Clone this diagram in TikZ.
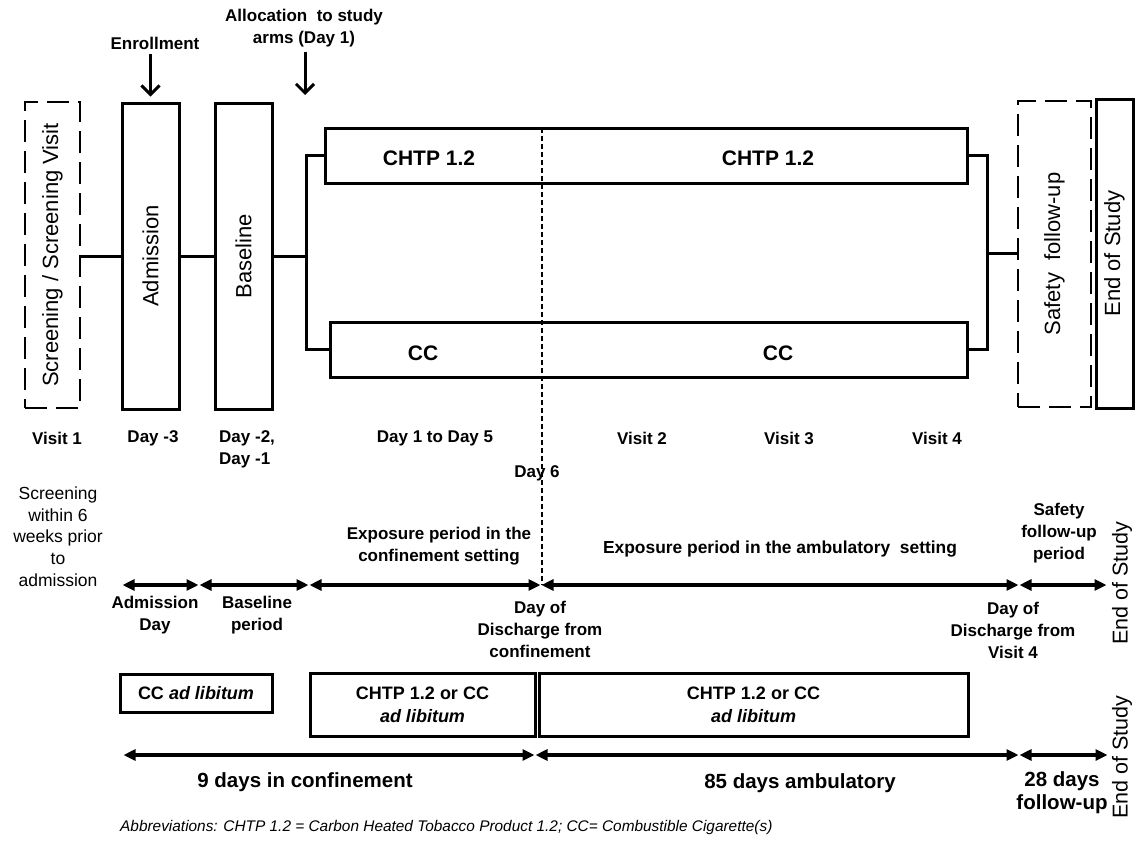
\documentclass[tikz,border=0pt]{standalone}
\usepackage{fontspec}
\setmainfont{Liberation Sans}
\usetikzlibrary{arrows.meta}
\begin{document}
\begin{tikzpicture}[x=1pt,y=-1pt,
  box/.style={draw, line width=3pt, inner sep=0pt},
  dbox/.style={draw, line width=2.6pt, inner sep=0pt, dash pattern=on 22pt off 9pt},
  vlab/.style={rotate=90, font=\fontsize{22}{26}\selectfont, inner sep=0pt},
  blab/.style={font=\fontsize{21}{25}\selectfont\bfseries, inner sep=0pt},
  lab/.style={font=\fontsize{17}{22}\selectfont\bfseries, align=center, inner sep=1pt},
  rlab/.style={font=\fontsize{17.5}{21.75}\selectfont, align=center, inner sep=1pt},
  plab/.style={font=\fontsize{18}{23}\selectfont\bfseries, align=center, inner sep=1pt},
  dlab/.style={font=\fontsize{20.5}{23}\selectfont\bfseries, align=center, inner sep=1pt},
  conn/.style={line width=3pt},
  downarr/.style={line width=3pt, -{Straight Barb[length=9pt,width=18pt]}},
  dbl/.style={line width=3.5pt, {Triangle[length=12pt,width=11pt]}-{Triangle[length=12pt,width=11pt]}, shorten <=0.5pt, shorten >=0.5pt},
  dline/.style={line width=1.6pt, dash pattern=on 5pt off 3pt}
]
\useasboundingbox (0,0) rectangle (1137,846);

% ---- top boxes
\node[dbox, minimum width=55pt, minimum height=306pt] (scr) at (52.5,255) {};
\node[vlab] at (scr) {Screening / Screening Visit};
\node[box, minimum width=57pt, minimum height=306pt] (adm) at (150.5,256) {};
\node[vlab] at (adm) {Admission};
\node[box, minimum width=57pt, minimum height=306pt] (base) at (243.5,256) {};
\node[vlab] at (base) {Baseline};
\node[box, minimum width=642pt, minimum height=55pt] (chtp) at (646,155.5) {};
\node[box, minimum width=637pt, minimum height=55pt] (cc) at (648.5,349.5) {};
\node[blab] at (429,158) {CHTP 1.2};
\node[blab] at (768,158) {CHTP 1.2};
\node[blab] at (423,353) {CC};
\node[blab] at (778,353) {CC};
\node[dbox, minimum width=73pt, minimum height=306pt] (safe) at (1054.5,254) {};
\node[vlab] at (safe) {Safety\ \ follow-up};
\node[box, minimum width=37pt, minimum height=309pt] (eos) at (1114.5,253.5) {};
\node[vlab] at (eos) {End of Study};

% ---- connectors
\coordinate (split) at (306,256);
\coordinate (merge) at (987,253);
\draw[conn] (scr.east |- adm.west) -- (adm.west);
\draw[conn] (adm.east) -- (base.west);
\draw[conn] (base.east) -- (split);
\draw[conn] (chtp.west) -| (split) |- (cc.west);
\draw[conn] (chtp.east) -| (merge) |- (cc.east);
\draw[conn] (merge) -- (merge -| safe.west);

% ---- top annotations
\node[lab] (enrl) at (155,43) {Enrollment};
\draw[downarr, shorten <=4pt, shorten >=5pt] (enrl.south -| adm.north) -- (adm.north);
\node[lab] (alloc) at (304,28.5) {Allocation\ \ to study\\arms (Day 1)};
\coordinate (allocpt) at (305,95);
\draw[downarr, shorten <=3pt] (alloc.south -| allocpt) -- (allocpt);

% ---- dashed day-6 line
\coordinate (d6top) at (542,128);
\coordinate (d6bot) at (542,585);
\draw[dline] (d6top) -- (d6bot);

% ---- row labels
\node[lab] at (57,438) {Visit 1};
\node[lab] at (153,438) {Day -3};
\node[lab, align=left, anchor=west] at (218,449) {Day -2,\\Day -1};
\node[lab] at (435,438) {Day 1 to Day 5};
\node[lab] at (642,438) {Visit 2};
\node[lab] at (789,438) {Visit 3};
\node[lab] at (937,438) {Visit 4};
\node[lab] at (537,473) {Day 6};
\node[rlab] at (58,536.5) {Screening\\within 6\\weeks prior\\to\\admission};
\node[lab] at (439,546) {Exposure period in the\\confinement setting};
\node[lab, font=\fontsize{17.4}{22}\selectfont\bfseries] at (780,549) {Exposure period in the ambulatory\ \ setting};
\node[lab] at (1059,533.5) {Safety\\follow-up\\period};
\node[vlab, font=\fontsize{21.5}{25}\selectfont] at (1122,583) {End of Study};

% ---- middle arrows
\coordinate (t0) at (122,585);
\coordinate (t1) at (199,585);
\coordinate (t2) at (309,585);
\coordinate (t3) at (541,585);
\coordinate (t4) at (1019,585);
\coordinate (t5) at (1107,585);
\draw[dbl] (t0) -- (t1);
\draw[dbl] (t1) -- (t2);
\draw[dbl] (t2) -- (t3);
\draw[dbl] (t3) -- (t4);
\draw[dbl] (t4) -- (t5);

\node[lab] at (155,615.5) {Admission\\Day};
\node[lab] at (257,615.5) {Baseline\\period};
\node[lab] at (540,629) {Day of\\Discharge from\\confinement};
\node[lab] at (1013,630) {Day of\\Discharge from\\Visit 4};

% ---- bottom boxes
\node[box, minimum width=152pt, minimum height=38pt] (ccad) at (196,693) {};
\node[plab] at (ccad) {CC \textit{ad libitum}};
\node[box, minimum width=225pt, minimum height=63pt] (conf) at (422.5,704.5) {};
\node[plab] at (conf) {CHTP 1.2 or CC\\\textit{ad libitum}};
\node[box, minimum width=429pt, minimum height=63pt] (amb) at (753.5,704.5) {};
\node[plab] at (amb) {CHTP 1.2 or CC\\\textit{ad libitum}};

% ---- bottom arrows
\coordinate (b0) at (123,755);
\coordinate (b1) at (535,755);
\coordinate (b2) at (1019,755);
\coordinate (b3) at (1108,755);
\draw[dbl] (b0) -- (b1);
\draw[dbl] (b1) -- (b2);
\draw[dbl] (b2) -- (b3);

\node[dlab] at (305,782) {9 days in confinement};
\node[dlab] at (800,783) {85 days ambulatory};
\node[dlab] at (1062,793) {28 days\\follow-up};
\node[vlab, font=\fontsize{21.5}{25}\selectfont] at (1122,757) {End of Study};

\node[anchor=west, inner sep=0pt, font=\fontsize{15.4}{18}\selectfont\itshape] at (120,828)
  {Abbreviations: CHTP 1.2 = Carbon Heated Tobacco Product 1.2; CC= Combustible Cigarette(s)};
\end{tikzpicture}
\end{document}
